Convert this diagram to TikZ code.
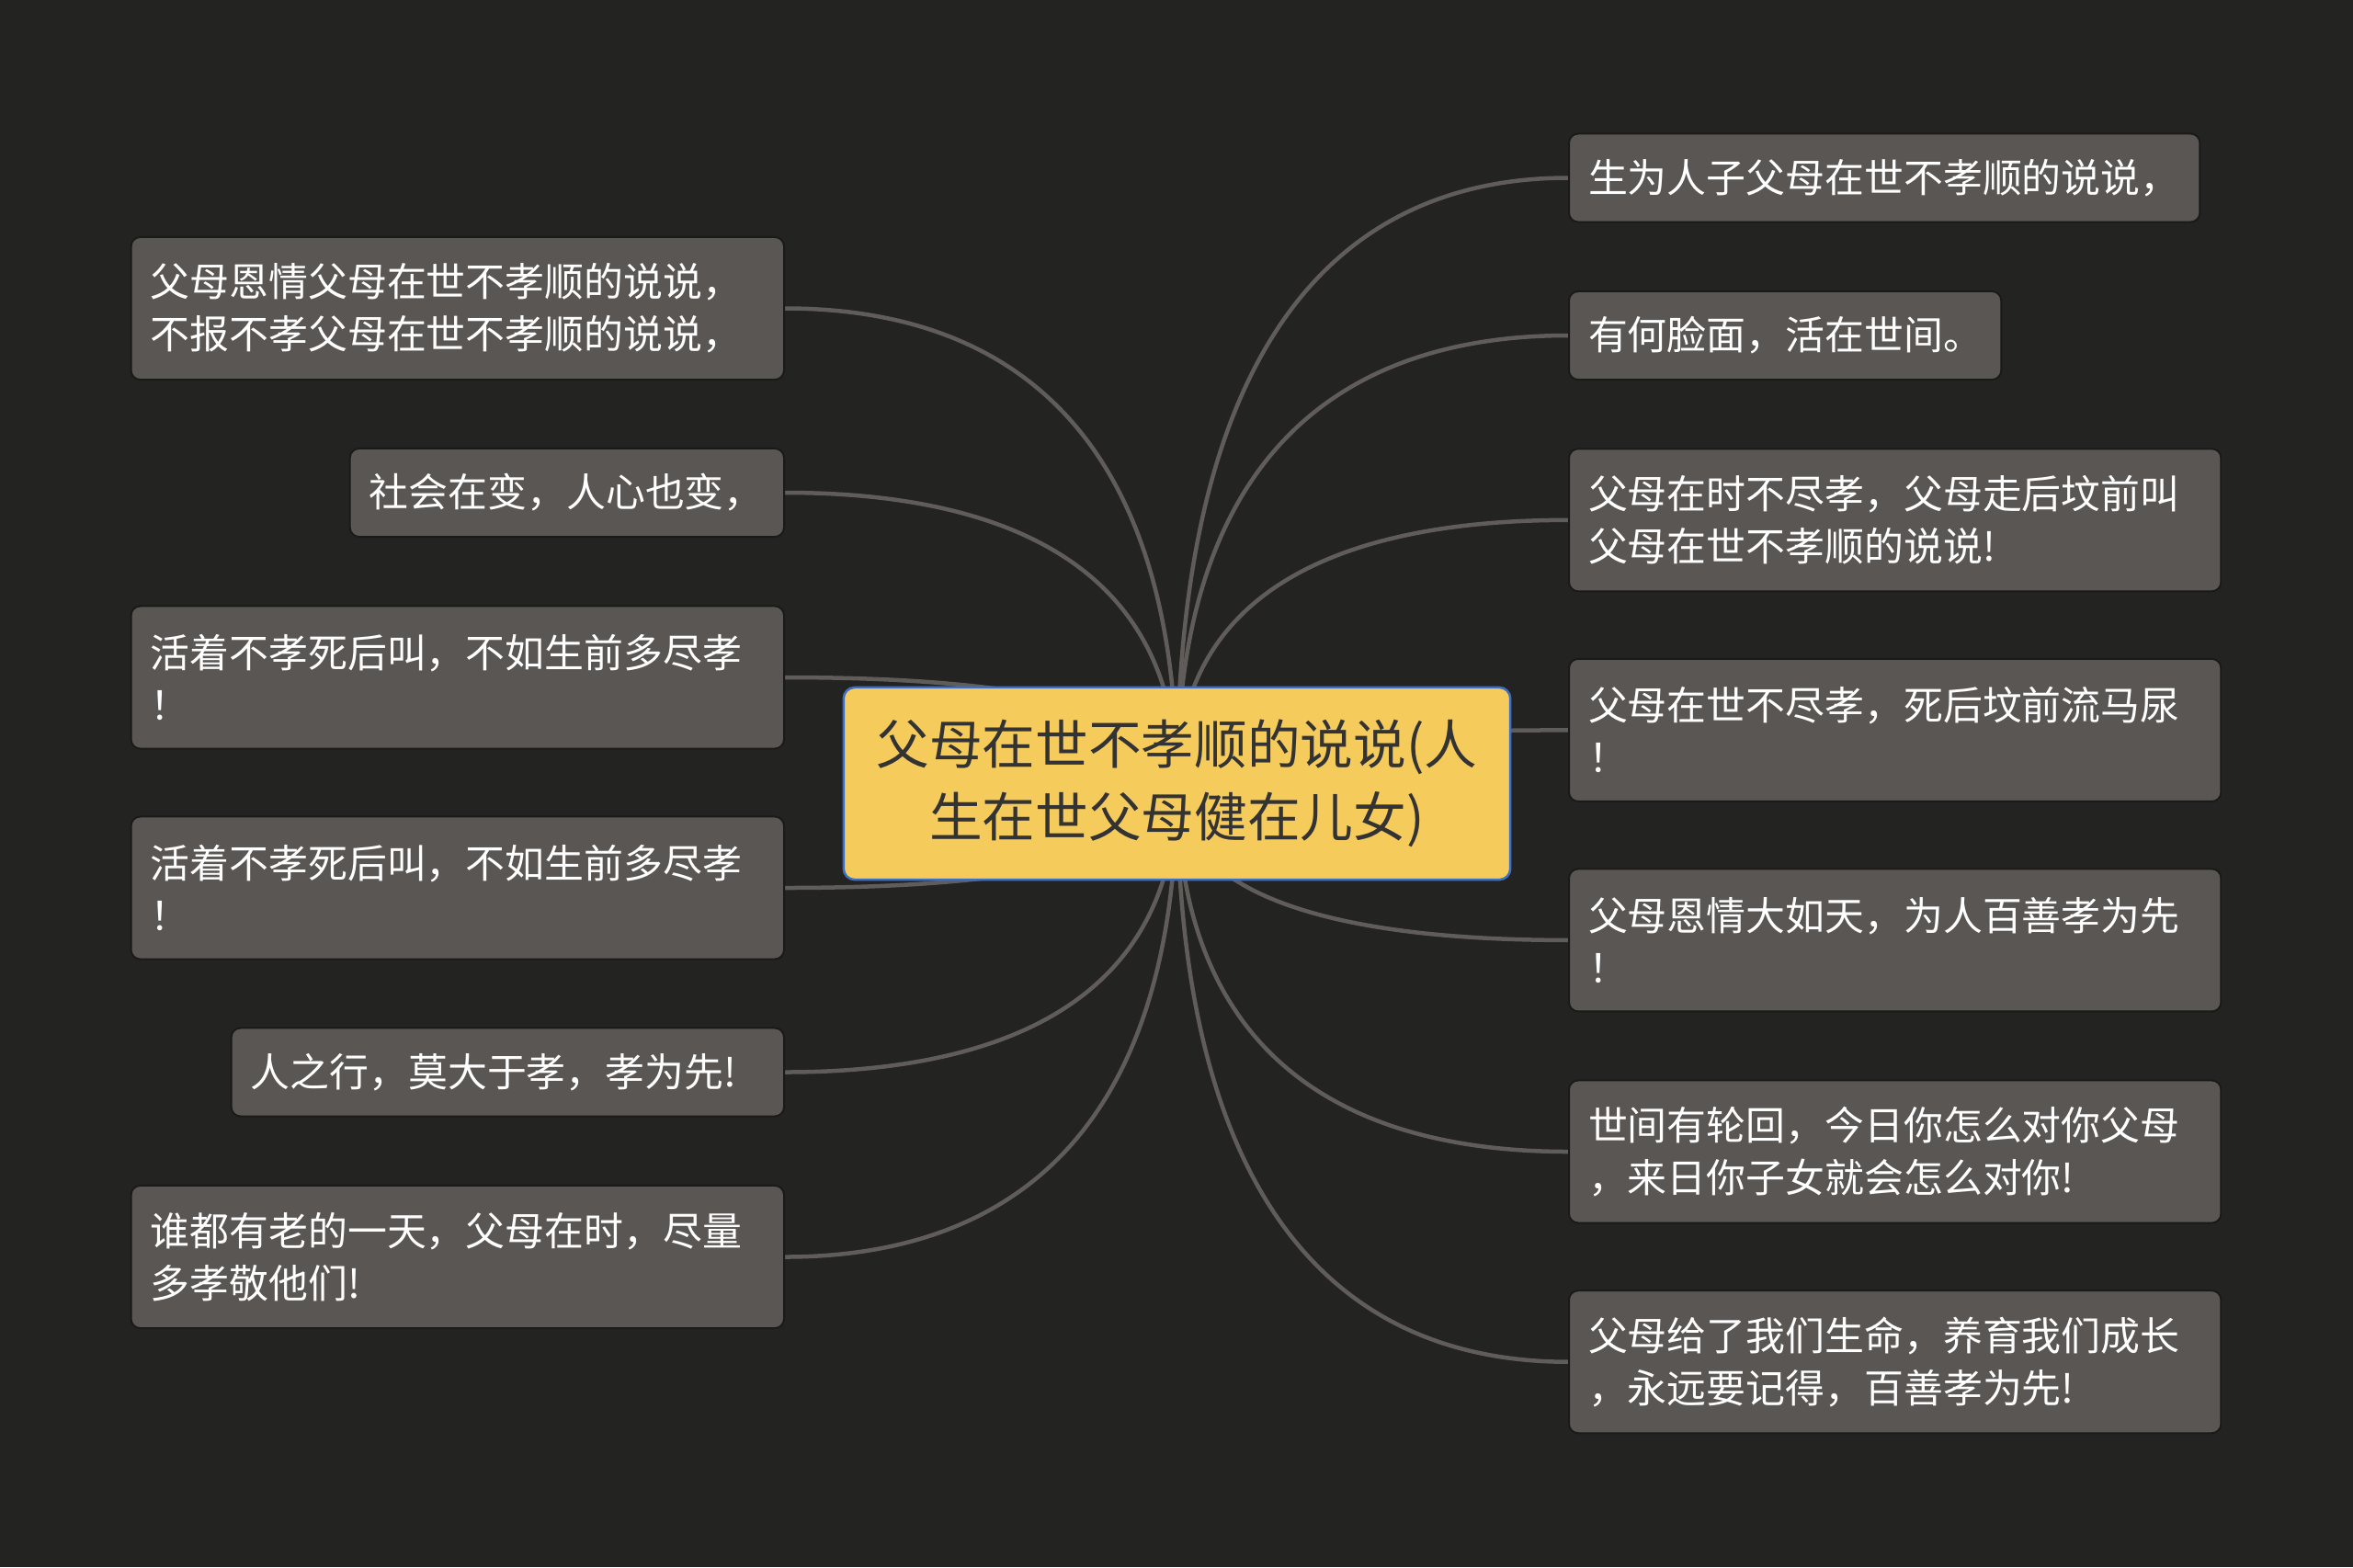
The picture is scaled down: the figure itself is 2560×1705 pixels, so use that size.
\documentclass[tikz,border=0pt]{standalone}
\usepackage{fontspec}
\newfontfamily\cjk{Noto Sans CJK SC}
\usetikzlibrary{calc,backgrounds}
\definecolor{bgc}{HTML}{232322}
\definecolor{leafc}{HTML}{5A5653}
\definecolor{leafb}{HTML}{1A1A19}
\definecolor{linec}{HTML}{605C59}
\definecolor{rootc}{HTML}{F5CB5C}
\definecolor{rootb}{HTML}{3E6FC6}
\definecolor{roott}{HTML}{333333}
\tikzset{
  leaf/.style={draw=leafb, line width=0.02cm, fill=leafc, rounded corners=0.1cm,
    text=white, font=\cjk\fontsize{12.2}{16.2}\selectfont, align=left,
    inner xsep=0.21cm, inner ysep=0pt, text width=#1},
  one/.style={minimum height=0.96cm},
  two/.style={minimum height=1.55cm},
  root/.style={draw=rootb, line width=0.025cm, fill=rootc, rounded corners=0.12cm,
    text=roott, font=\cjk\fontsize{16.4}{22.5}\selectfont, align=center,
    minimum width=7.25cm, minimum height=2.09cm, inner sep=0pt},
  conn/.style={draw=linec, line width=0.045cm}
}
\begin{document}
\begin{tikzpicture}[x=0.01cm,y=-0.01cm]
\useasboundingbox (0,0) rectangle (2560,1705);
% root
\node[root] (c) at (1280.5,852.5) {父母在世不孝顺的说说(人\\生在世父母健在儿女)};
% right nodes (left x 1706)
\node[leaf=6.44cm, one, anchor=west] (r1) at (1706,193.5) {生为人子父母在世不孝顺的说说，};
\node[leaf=4.28cm, one, anchor=west] (r2) at (1706,365) {有何脸面，活在世间。};
\node[leaf=6.67cm, two, anchor=west] (r3) at (1706,565.8) {父母在时不尽孝，父母走后坟前叫\\父母在世不孝顺的说说!};
\node[leaf=6.67cm, two, anchor=west] (r4) at (1706,794.4) {父母在世不尽孝，死后坟前流马尿\\！};
\node[leaf=6.67cm, two, anchor=west] (r5) at (1706,1022.9) {父母恩情大如天，为人百善孝为先\\！};
\node[leaf=6.67cm, two, anchor=west] (r6) at (1706,1253) {世间有轮回，今日你怎么对你父母\\，来日你子女就会怎么对你!};
\node[leaf=6.67cm, two, anchor=west] (r7) at (1706,1481.7) {父母给了我们生命，养育我们成长\\，永远要记得，百善孝为先!};
% left nodes (right x 854)
\node[leaf=6.68cm, two, anchor=east] (l1) at (854,335.5) {父母恩情父母在世不孝顺的说说，\\不报不孝父母在世不孝顺的说说，};
\node[leaf=4.30cm, one, anchor=east] (l2) at (854,536) {社会在变，人心也变，};
\node[leaf=6.68cm, two, anchor=east] (l3) at (854,737) {活着不孝死后叫，不如生前多尽孝\\！};
\node[leaf=6.68cm, two, anchor=east] (l4) at (854,966) {活着不孝死后叫，不如生前多尽孝\\！};
\node[leaf=5.59cm, one, anchor=east] (l5) at (854,1166.5) {人之行，莫大于孝，孝为先!};
\node[leaf=6.68cm, two, anchor=east] (l6) at (854,1367.5) {谁都有老的一天，父母在时，尽量\\多孝敬他们!};
\begin{pgfonlayer}{background}
\fill[bgc] (0,0) rectangle (2560,1705);
\foreach \t/\a in {r1/west,r2/west,r3/west,r4/west,r5/west,r6/west,r7/west,
                   l1/east,l2/east,l3/east,l4/east,l5/east,l6/east}
  \draw[conn] (c.center) .. controls ($(c.center)!0.8!(c.center |- \t.\a)$)
     and ($(c.center |- \t.\a)!0.5!(\t.\a)$) .. (\t.\a);
\end{pgfonlayer}
\end{tikzpicture}
\end{document}
